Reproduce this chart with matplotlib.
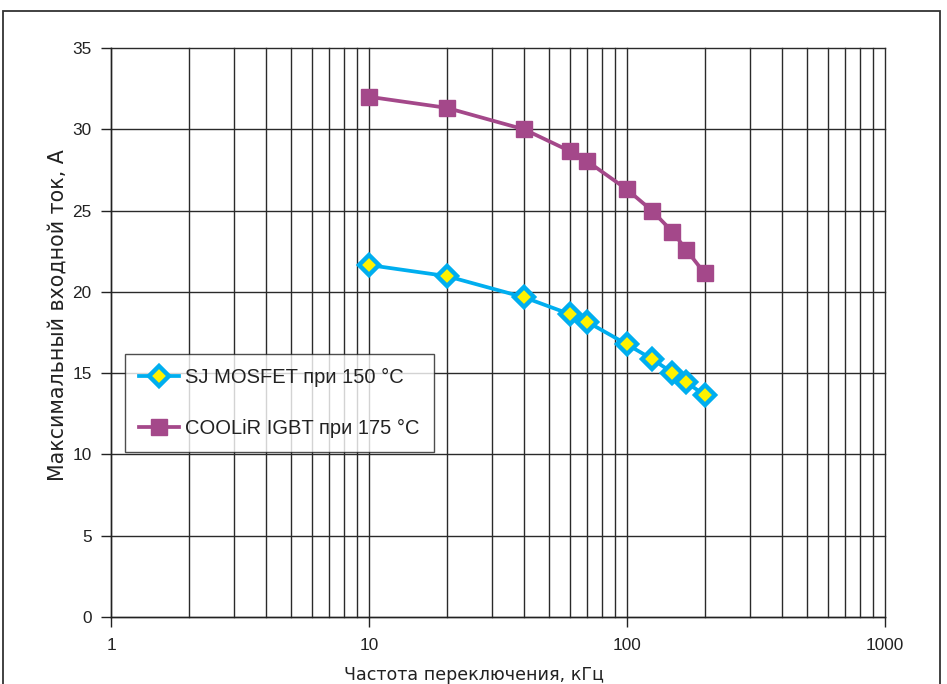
import matplotlib
matplotlib.use("Agg")
import matplotlib.pyplot as plt
from matplotlib.patches import Rectangle
from matplotlib.ticker import LogLocator, FixedLocator, NullFormatter

plt.rcParams['font.family'] = ['Liberation Sans', 'DejaVu Sans']

# Switching frequency, kHz
freq_khz = [10, 20, 40, 60, 70, 100, 125, 150, 170, 200]
# Maximum input current, A
mosfet_current = [21.65, 20.97, 19.66, 18.63, 18.16, 16.77, 15.87, 15.03, 14.43, 13.65]
igbt_current = [32.0, 31.32, 29.99, 28.66, 28.04, 26.3, 24.99, 23.7, 22.57, 21.14]

series_labels = ["SJ MOSFET при 150 °C", "COOLiR IGBT при 175 °C"]
x_ticks = [1, 10, 100, 1000]
x_tick_labels = ["1", "10", "100", "1000"]
y_ticks = [0, 5, 10, 15, 20, 25, 30, 35]
x_label = "Частота переключения, кГц"
y_label = "Максимальный входной ток, А"

W, H = 947, 684
fig = plt.figure(figsize=(W / 100, H / 100), dpi=100)
ax = fig.add_axes([111 / W, 1 - 617 / H, (885 - 111) / W, (617 - 48) / H])

# outer frame around the whole chart
fig.patches.append(Rectangle((3 / W, -0.2), (940 - 3) / W, 1.2 - 11 / H,
                             transform=fig.transFigure, fill=False,
                             edgecolor="#333333", linewidth=1.3, zorder=0))

ax.set_xscale("log")
ax.set_xlim(1, 1000)
ax.set_ylim(0, 35)

grid_kw = dict(color="#2a2a2a", linewidth=1.0, zorder=1, clip_on=False)
for dec in (1, 10, 100):
    for m in range(1, 10):
        ax.axvline(dec * m, **grid_kw)
ax.axvline(1000, **grid_kw)
for y in y_ticks:
    ax.axhline(y, **grid_kw)

mos_color = "#00AEEF"
igbt_color = "#A4488A"

ax.plot(freq_khz, mosfet_current, color=mos_color, linewidth=2.7,
        marker="D", markersize=10, markerfacecolor="#FFF200",
        markeredgecolor=mos_color, markeredgewidth=3.2,
        label=series_labels[0], zorder=4)
ax.plot(freq_khz, igbt_current, color=igbt_color, linewidth=2.7,
        marker="s", markersize=11.5, markerfacecolor=igbt_color,
        markeredgecolor=igbt_color, label=series_labels[1], zorder=4)

for side in ("top", "right"):
    ax.spines[side].set_visible(False)
for side in ("left", "bottom"):
    ax.spines[side].set_color("#222222")
    ax.spines[side].set_linewidth(1.0)

ax.xaxis.set_major_locator(FixedLocator(x_ticks))
ax.set_xticklabels(x_tick_labels)
ax.xaxis.set_minor_locator(LogLocator(base=10, subs=range(2, 10)))
ax.xaxis.set_minor_formatter(NullFormatter())
ax.tick_params(axis="x", which="minor", length=0)
ax.set_yticks(y_ticks)
ax.tick_params(axis="both", which="major", direction="out", length=7,
               width=1.0, color="#222222", labelsize=12.4, labelcolor="#222222")
ax.tick_params(axis="x", which="major", pad=8)
ax.tick_params(axis="y", which="major", pad=7)

ax.set_xlabel(x_label, fontsize=12.6, color="#222222",
              family=["DejaVu Sans"])
ax.xaxis.set_label_coords((474 - 111) / 774, (617 - 666) / 569)
ax.set_ylabel(y_label, fontsize=14.8, color="#222222",
              family=["DejaVu Sans"])
ax.yaxis.set_label_coords((68 - 111) / 774, (617 - 315) / 569)

leg = ax.legend(loc="upper left", bbox_to_anchor=(0.018, 0.462),
                frameon=True, fancybox=False, fontsize=14.5,
                handlelength=2.0, handletextpad=0.3, labelspacing=1.55,
                borderpad=0.7, borderaxespad=0)
leg.get_frame().set_edgecolor("#222222")
leg.get_frame().set_linewidth(1.0)
leg.set_zorder(5)
for t in leg.get_texts():
    t.set_color("#222222")

fig.savefig("out.png", dpi=100)
